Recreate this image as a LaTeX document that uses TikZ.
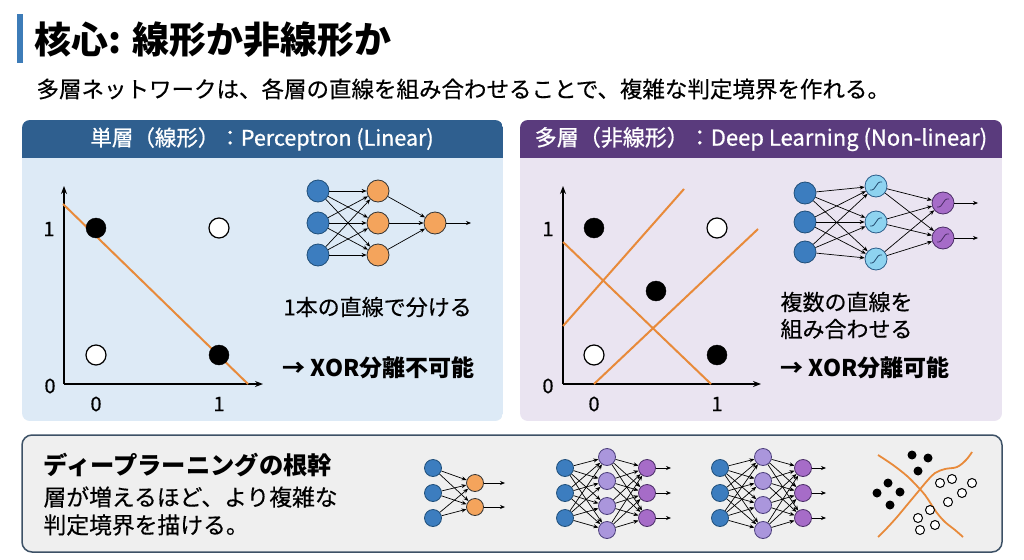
\documentclass[tikz,border=0pt]{standalone}
\usepackage{fontspec}
\setmainfont{Noto Sans CJK JP}
\newfontfamily\medium{Noto Sans CJK JP}[FakeBold=0.4]
\newfontfamily\semib{Noto Sans CJK JP}[FakeBold=0.8]
\usetikzlibrary{arrows.meta}
\definecolor{titleblue}{HTML}{3D7CB8}
\definecolor{lhead}{HTML}{2F5F8F}
\definecolor{lbody}{HTML}{DDEAF6}
\definecolor{rhead}{HTML}{5A3B7D}
\definecolor{rbody}{HTML}{EAE4F1}
\definecolor{bfill}{HTML}{EFEFEF}
\definecolor{bborder}{HTML}{3D5166}
\definecolor{inblue}{HTML}{3C7DBF}
\definecolor{inblueb}{HTML}{1F4E79}
\definecolor{ornode}{HTML}{F4A45C}
\definecolor{ltblue}{HTML}{8ED3F0}
\definecolor{ltblueb}{HTML}{2B5D8A}
\definecolor{purout}{HTML}{A66CC8}
\definecolor{puroutb}{HTML}{4A2D66}
\definecolor{purhid}{HTML}{AA96DC}
\definecolor{purhidb}{HTML}{4A3D7A}
\definecolor{orline}{HTML}{E88A3A}
\tikzset{
  nn/.style={circle, inner sep=0pt, minimum size=22pt, line width=0.8pt},
  nnin/.style={nn, fill=inblue, draw=inblueb},
  nnor/.style={nn, fill=ornode, draw=black!80},
  nnlb/.style={nn, fill=ltblue, draw=ltblueb},
  nnpo/.style={nn, fill=purout, draw=puroutb},
  nnph/.style={nn, fill=purhid, draw=purhidb},
  small/.style={minimum size=17pt},
  nnarrow/.style={-{Stealth[length=5pt,width=4pt]}, line width=0.7pt, black},
  axis/.style={-{Stealth[length=8pt,width=6pt]}, line width=1.5pt, black},
  bdot/.style={circle, inner sep=0pt, minimum size=20pt, fill=black, draw=black},
  wdot/.style={circle, inner sep=0pt, minimum size=20pt, fill=white, draw=black, line width=1.2pt},
  sbdot/.style={circle, inner sep=0pt, minimum size=9pt, fill=black},
  swdot/.style={circle, inner sep=0pt, minimum size=9pt, fill=white, draw=black, line width=1pt},
  boundary/.style={orline, line width=2pt},
  ticklab/.style={font=\medium\fontsize{20}{22}\selectfont},
  sig/.style={line width=0.8pt, ltblueb!80!black},
}
\begin{document}
\begin{tikzpicture}[x=1pt,y=-1pt]
\useasboundingbox (0,0) rectangle (1024,559);
\fill[white] (0,0) rectangle (1024,559);

% title
\fill[titleblue] (17,14) rectangle (23,63);
\node[anchor=west, font=\fontsize{37}{40}\selectfont\bfseries] (title) at (31,40) {核心: 線形か非線形か};
\node[anchor=west, font=\medium\fontsize{22.5}{26}\selectfont] (sub) at (33,89) {多層ネットワークは、各層の直線を組み合わせることで、複雑な判定境界を作れる。};

% left panel
\begin{scope}
\clip[rounded corners=8pt] (22,120) rectangle (503,421);
\fill[lbody] (22,120) rectangle (503,421);
\fill[lhead] (22,120) rectangle (503,158);
\end{scope}
\node[white, font=\semib\fontsize{21.5}{24}\selectfont] (lh) at (262,139) {単層（線形）：Perceptron (Linear)};

% right panel
\begin{scope}
\clip[rounded corners=8pt] (520,120) rectangle (1002,421);
\fill[rbody] (520,120) rectangle (1002,421);
\fill[rhead] (520,120) rectangle (1002,158);
\end{scope}
\node[white, font=\semib\fontsize{22}{24}\selectfont] (rh) at (761,139) {多層（非線形）：Deep Learning (Non-linear)};

% left plot
\coordinate (LO) at (64,384);
\coordinate (LY) at (64,186);
\coordinate (LX) at (263,384);
\draw[axis] (LO) -- (LY);
\draw[axis] (LO) -- (LX);
\coordinate (LA) at (63,204);
\coordinate (LB) at (248,384);
\draw[boundary] (LA) -- (LB);
\node[bdot] (p1) at (96,228) {};
\node[wdot] (p2) at (219,228) {};
\node[wdot] (p3) at (96,355) {};
\node[bdot] (p4) at (219,355) {};
\node[ticklab] (lx0) at (96,404) {0};
\node[ticklab] (lx1) at (219,404) {1};
\node[ticklab] (ly1) at (49,229) {1};
\node[ticklab] (ly0) at (50,386) {0};

% left NN
\node[nnin] (a1) at (318,191) {};
\node[nnin] (a2) at (318,223) {};
\node[nnin] (a3) at (318,255) {};
\node[nnor] (b1) at (378,191) {};
\node[nnor] (b2) at (378,223) {};
\node[nnor] (b3) at (378,255) {};
\node[nnor] (c1) at (435,223) {};
\coordinate (cout) at (471,223);
\foreach \i in {1,2,3}{\foreach \j in {1,2,3}{\draw[nnarrow] (a\i) -- (b\j);}}
\foreach \j in {1,2,3}{\draw[nnarrow] (b\j) -- (c1);}
\draw[nnarrow] (c1) -- (cout);
\node[anchor=west, font=\medium\fontsize{22}{24}\selectfont] (lt1) at (280,307) {1本の直線で分ける};
\node[anchor=west, font=\fontsize{23}{26}\selectfont\bfseries] (lt2) at (279,368) {→ XOR分離不可能};

% right plot
\coordinate (RO) at (563,384);
\coordinate (RY) at (563,186);
\coordinate (RX) at (761,384);
\draw[axis] (RO) -- (RY);
\draw[axis] (RO) -- (RX);
\coordinate (ra1) at (563,242);
\coordinate (ra2) at (711,384);
\coordinate (rb1) at (563,326);
\coordinate (rb2) at (684,189);
\coordinate (rc1) at (594,384);
\coordinate (rc2) at (758,229);
\draw[boundary] (ra1) -- (ra2);
\draw[boundary] (rb1) -- (rb2);
\draw[boundary] (rc1) -- (rc2);
\node[bdot] (q1) at (594,228) {};
\node[wdot] (q2) at (717,228) {};
\node[bdot] (q3) at (656,291) {};
\node[wdot] (q4) at (594,355) {};
\node[bdot] (q5) at (717,355) {};
\node[ticklab] (rx0) at (594,404) {0};
\node[ticklab] (rx1) at (717,404) {1};
\node[ticklab] (ry1) at (548,229) {1};
\node[ticklab] (ry0) at (548,386) {0};

% right NN
\node[nnin] (d1) at (805,193) {};
\node[nnin] (d2) at (805,222) {};
\node[nnin] (d3) at (805,252) {};
\node[nnlb] (e1) at (876,186) {};
\node[nnlb] (e2) at (876,222) {};
\node[nnlb] (e3) at (876,259) {};
\node[nnpo] (f1) at (943,203) {};
\node[nnpo] (f2) at (943,238) {};
\coordinate (fo1) at (978,203);
\coordinate (fo2) at (978,238);
\foreach \i in {1,2,3}{\foreach \j in {1,2,3}{\draw[nnarrow] (d\i) -- (e\j);}}
\foreach \i in {1,2,3}{\foreach \j in {1,2}{\draw[nnarrow] (e\i) -- (f\j);}}
\draw[nnarrow] (f1) -- (fo1);
\draw[nnarrow] (f2) -- (fo2);
\foreach \n in {e1,e2,e3}{\draw[sig, shift={(\n.center)}] (-6,4) .. controls (1,5) and (-1,-5) .. (6,-4);}
\foreach \n in {f1,f2}{\draw[line width=0.8pt, puroutb, shift={(\n.center)}] (-6,4) .. controls (1,5) and (-1,-5) .. (6,-4);}
\node[anchor=west, font=\medium\fontsize{22}{26}\selectfont] (rt1) at (777,302) {複数の直線を};
\node[anchor=west, font=\medium\fontsize{22}{26}\selectfont] (rt2) at (777,329) {組み合わせる};
\node[anchor=west, font=\fontsize{23}{26}\selectfont\bfseries] (rt3) at (777,368) {→ XOR分離可能};

% bottom panel
\draw[bborder, fill=bfill, line width=1.5pt, rounded corners=10pt] (22,435) rectangle (1002,552);
\node[anchor=west, font=\fontsize{24.3}{28}\selectfont\bfseries] (bt1) at (40,465) {ディープラーニングの根幹};
\node[anchor=west, font=\medium\fontsize{22.8}{26}\selectfont] (bt2) at (40,497) {層が増えるほど、より複雑な};
\node[anchor=west, font=\medium\fontsize{22.8}{26}\selectfont] (bt3) at (40,525) {判定境界を描ける。};

% bottom NN 1
\node[nnin, small] (g1) at (433,468) {};
\node[nnin, small] (g2) at (433,493) {};
\node[nnin, small] (g3) at (433,518) {};
\node[nnor, small] (h1) at (475,483) {};
\node[nnor, small] (h2) at (475,507) {};
\coordinate (ho1) at (505,483);
\coordinate (ho2) at (505,507);
\foreach \i in {1,2,3}{\foreach \j in {1,2}{\draw[nnarrow] (g\i) -- (h\j);}}
\draw[nnarrow] (h1) -- (ho1);
\draw[nnarrow] (h2) -- (ho2);

% bottom NN 2
\node[nnin, small] (i1) at (565,468) {};
\node[nnin, small] (i2) at (565,493) {};
\node[nnin, small] (i3) at (565,518) {};
\node[nnph, small] (j1) at (607,457) {};
\node[nnph, small] (j2) at (607,481) {};
\node[nnph, small] (j3) at (607,506) {};
\node[nnph, small] (j4) at (607,530) {};
\node[nnpo, small] (k1) at (647,468) {};
\node[nnpo, small] (k2) at (647,493) {};
\node[nnpo, small] (k3) at (647,518) {};
\coordinate (ko1) at (671,468);
\coordinate (ko2) at (671,493);
\coordinate (ko3) at (671,518);
\foreach \i in {1,2,3}{\foreach \j in {1,2,3,4}{\draw[nnarrow] (i\i) -- (j\j);}}
\foreach \i in {1,2,3,4}{\foreach \j in {1,2,3}{\draw[nnarrow] (j\i) -- (k\j);}}
\foreach \j in {1,2,3}{\draw[nnarrow] (k\j) -- (ko\j);}

% bottom NN 3
\node[nnin, small] (m1) at (720,468) {};
\node[nnin, small] (m2) at (720,493) {};
\node[nnin, small] (m3) at (720,518) {};
\node[nnph, small] (n1) at (763,457) {};
\node[nnph, small] (n2) at (763,481) {};
\node[nnph, small] (n3) at (763,505) {};
\node[nnph, small] (n4) at (763,530) {};
\node[nnpo, small] (o1) at (803,468) {};
\node[nnpo, small] (o2) at (803,493) {};
\node[nnpo, small] (o3) at (803,518) {};
\coordinate (oo1) at (826,468);
\coordinate (oo2) at (826,493);
\coordinate (oo3) at (826,518);
\foreach \i in {1,2,3}{\foreach \j in {1,2,3,4}{\draw[nnarrow] (m\i) -- (n\j);}}
\foreach \i in {1,2,3,4}{\foreach \j in {1,2,3}{\draw[nnarrow] (n\i) -- (o\j);}}
\foreach \j in {1,2,3}{\draw[nnarrow] (o\j) -- (oo\j);}

% decision boundary icon
\draw[boundary, line width=1.8pt] plot[smooth, tension=0.6] coordinates {(878,455) (893,465) (907,476) (917,486) (925,495) (931,504) (937,513) (945,522) (955,530) (963,537)};
\draw[boundary, line width=1.8pt] plot[smooth, tension=0.6] coordinates {(878,537) (887,528) (897,517) (907,505) (917,493) (927,481) (935,473) (945,469) (957,467) (966,460) (972,452)};
\node[sbdot] (s1) at (912,455) {};
\node[sbdot] (s2) at (928,458) {};
\node[sbdot] (s3) at (918,471) {};
\node[sbdot] (s4) at (888,483) {};
\node[sbdot] (s5) at (877,493) {};
\node[sbdot] (s6) at (900,492) {};
\node[sbdot] (s7) at (890,505) {};
\node[swdot] (w1) at (940,483) {};
\node[swdot] (w2) at (952,479) {};
\node[swdot] (w3) at (972,483) {};
\node[swdot] (w4) at (962,493) {};
\node[swdot] (w5) at (948,502) {};
\node[swdot] (w6) at (930,510) {};
\node[swdot] (w7) at (918,518) {};
\node[swdot] (w8) at (935,525) {};
\node[swdot] (w9) at (920,530) {};
\end{tikzpicture}
\end{document}
